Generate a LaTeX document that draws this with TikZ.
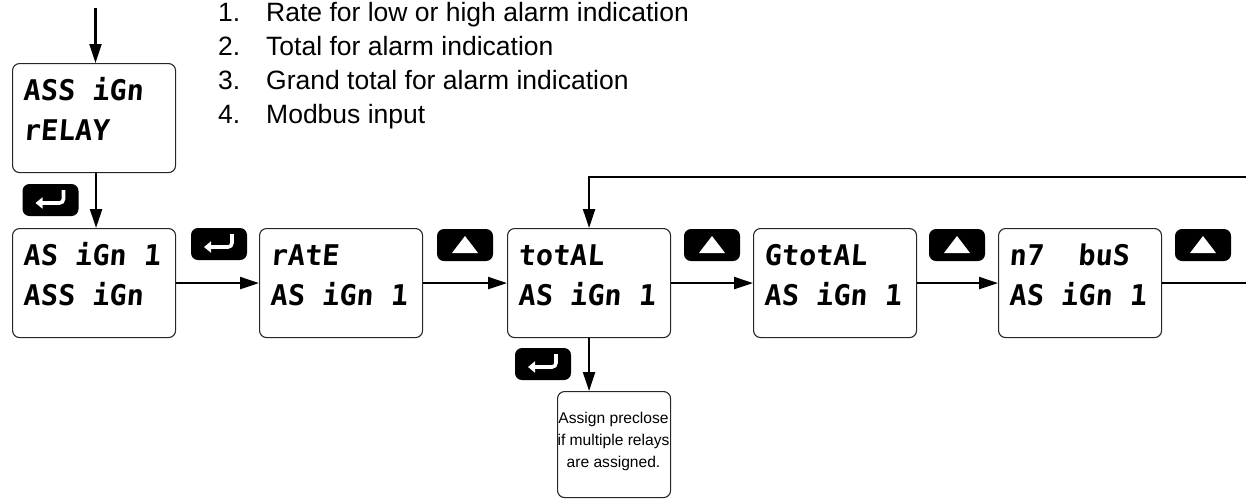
\documentclass[tikz,border=0pt]{standalone}
\usepackage{fontspec}
\usetikzlibrary{arrows.meta,calc}
\newfontfamily\segfont[FakeSlant=0.08]{DejaVu Sans Mono}
\newfontfamily\listfont{Liberation Sans}
\tikzset{
  disp/.style={draw=black!85, line width=1.1pt, rounded corners=7pt, minimum width=163pt, minimum height=109pt, inner sep=0pt},
  dtxt/.style={anchor=base west, inner sep=0pt, font=\segfont\bfseries\fontsize{28.5}{30}\selectfont},
  btn/.style={fill=black, rounded corners=7pt, minimum width=56pt, minimum height=32pt, inner sep=0pt},
  arr/.style={line width=2.2pt, -{Triangle[length=19pt,width=12pt]}},
  listtxt/.style={anchor=base west, inner sep=0pt, font=\listfont\fontsize{26.5}{30}\selectfont},
  notetxt/.style={anchor=base, inner sep=0pt, font=\listfont\fontsize{15.6}{18}\selectfont},
  notebox/.style={draw=black!85, line width=1.1pt, rounded corners=7pt, inner sep=0pt}
}
\newcommand\dispbox[5]{%
  \node[disp, anchor=north west] (#1) at (#2,#3) {};
  \node[dtxt] (#1-a) at ($(#1.north west)+(11,37)$) {#4};
  \node[dtxt] (#1-b) at ($(#1.north west)+(11,77)$) {#5};
}
\newcommand\enterbtn[3]{%
  \node[btn] (#1) at (#2,#3) {};
  \draw[white, line width=3.6pt, -{Triangle[length=7pt,width=11pt]}] ($(#1.center)+(13,-10)$) -- ($(#1.center)+(13,-1)$) arc[start angle=0, end angle=-90, radius=4pt] -- ($(#1.center)+(-15,3)$);
}
\newcommand\upbtn[3]{%
  \node[btn] (#1) at (#2,#3) {};
  \fill[white] ($(#1.center)+(-13,8)$) -- ($(#1.center)+(13,8)$) -- ($(#1.center)+(0,-9)$) -- cycle;
}
\begin{document}
\begin{tikzpicture}[x=1pt,y=-1pt]
\useasboundingbox (0,0) rectangle (1246,499);

% list
\node[listtxt] (l1n) at (218,21) {1.};
\node[listtxt] (l1) at (266,21) {Rate for low or high alarm indication};
\node[listtxt] (l2n) at (218,55) {2.};
\node[listtxt] (l2) at (266,55) {Total for alarm indication};
\node[listtxt] (l3n) at (218,89) {3.};
\node[listtxt] (l3) at (266,89) {Grand total for alarm indication};
\node[listtxt] (l4n) at (218,123) {4.};
\node[listtxt] (l4) at (266,123) {Modbus input};

% displays
\dispbox{r0}{12}{63}{ASS iGn}{rELAY}
\dispbox{a1}{12}{228}{AS iGn 1}{ASS iGn}
\dispbox{ra}{259}{228}{rAtE}{AS iGn 1}
\dispbox{to}{507}{228}{totAL}{AS iGn 1}
\dispbox{gt}{753}{228}{GtotAL}{AS iGn 1}
\dispbox{mb}{998}{228}{n7~~buS}{AS iGn 1}

% note
\node[notebox, minimum width=113pt, minimum height=106pt, anchor=north west] (note) at (557,391) {};
\node[notetxt] (n1) at (613.5,423) {Assign preclose};
\node[notetxt] (n2) at (613.5,445) {if multiple relays};
\node[notetxt] (n3) at (613.5,467) {are assigned.};

% buttons
\enterbtn{e0}{50.5}{200}
\enterbtn{e1}{219}{244}
\upbtn{u1}{465}{245}
\upbtn{u2}{712}{245}
\upbtn{u3}{957}{245}
\upbtn{u4}{1203}{245}
\enterbtn{e2}{543}{364}

% connectors
\coordinate (start) at (95.5,8);
\draw[arr] (start) -- (start |- r0.north);
\draw[arr] ([xshift=2pt]r0.south) -- ([xshift=2pt]a1.north);
\draw[arr] (a1.east) -- (ra.west);
\draw[arr] (ra.east) -- (to.west);
\draw[arr] (to.east) -- (gt.west);
\draw[arr] (gt.east) -- (mb.west);
\coordinate (loopR) at (1250,177);
\draw[arr] (mb.east) -| (loopR) -| (to.north);
\draw[arr] (to.south) -- (to.south |- note.north);
\end{tikzpicture}
\end{document}
